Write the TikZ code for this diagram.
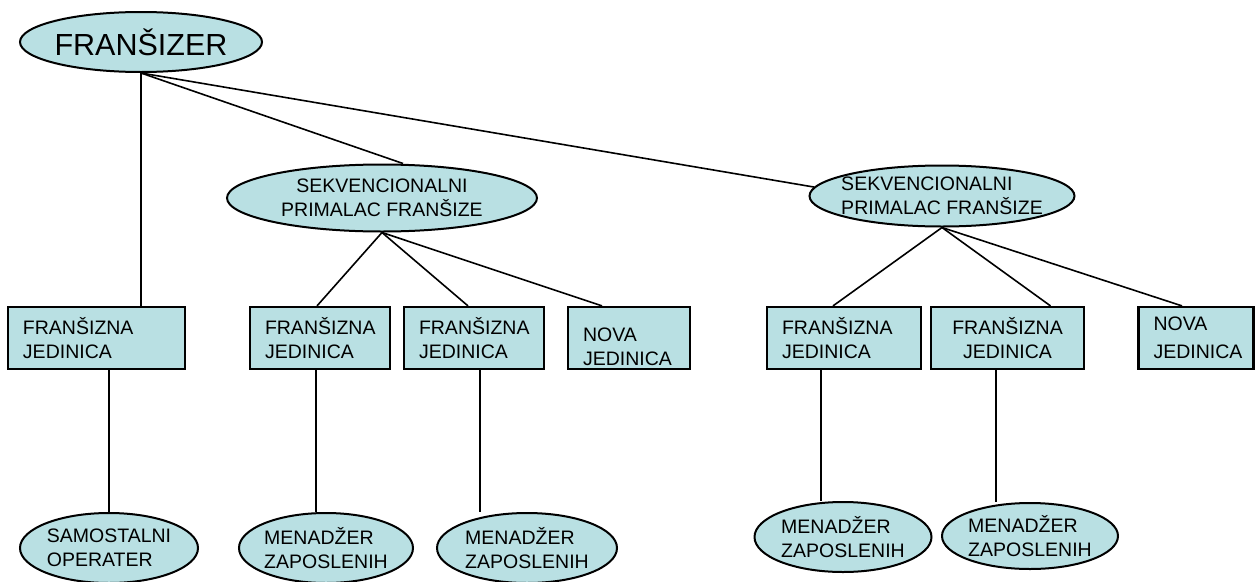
\documentclass[tikz,border=0pt]{standalone}
\usepackage{fontspec}
\setmainfont{Liberation Sans}
\usetikzlibrary{shapes.geometric}
\definecolor{franfill}{RGB}{185,224,227}

\begin{document}
\begin{tikzpicture}[x=1pt, y=-1pt,
        font=\fontsize{19.5}{23.5}\selectfont,
        ell/.style={ellipse, draw, fill=franfill, line width=2pt, inner xsep=-12pt, inner ysep=-4pt},
        jed/.style={rectangle, draw, fill=franfill, line width=2.2pt, text width=#1, inner xsep=15pt, minimum height=62pt, align=left},
        conn/.style={line width=1.6pt}]
        \useasboundingbox (0,0) rectangle (1255,581);

        % top and the two sequential franchisees
        \node[ell, minimum width=242pt, minimum height=60pt, font=\fontsize{30.5}{36}\selectfont] (fran) at (141,42) {FRANŠIZER};
        \node[ell, minimum width=310pt, minimum height=67pt, align=center] (sp1) at (382,198) {SEKVENCIONALNI\\PRIMALAC FRANŠIZE};
        \node[ell, minimum width=265pt, minimum height=61pt, align=left] (sp2) at (942,196) {SEKVENCIONALNI\\PRIMALAC FRANŠIZE};

        % units
        \node[jed=147pt] (b1) at (96.5,338) {FRANŠIZNA\\JEDINICA};
        \node[jed=110pt] (b2) at (320,338) {FRANŠIZNA\\JEDINICA};
        \node[jed=110pt] (b3) at (474,338) {FRANŠIZNA\\JEDINICA};
        \node[jed=92pt] (b4) at (629,338) {\raisebox{-9pt}[\height][\depth]{\parbox{92pt}{NOVA\\JEDINICA}}};
        \node[jed=124pt] (b5) at (844,338) {FRANŠIZNA\\JEDINICA};
        \node[jed=123pt, align=center] (b6) at (1007.5,338) {FRANŠIZNA\\JEDINICA};
        \node[jed=85pt] (b7) at (1196,338) {NOVA\\[5pt]JEDINICA};

        % bottom row
        \node[ell, minimum width=178pt, minimum height=70pt, align=left] (e1) at (109,548) {SAMOSTALNI\\OPERATER};
        \node[ell, minimum width=174pt, minimum height=70pt, align=left] (e2) at (326,548) {MENADŽER\\ZAPOSLENIH};
        \node[ell, minimum width=180pt, minimum height=70pt, align=left] (e3) at (527,548) {MENADŽER\\ZAPOSLENIH};
        \node[ell, minimum width=177pt, minimum height=70pt, align=left] (e4) at (843,537) {MENADŽER\\ZAPOSLENIH};
        \node[ell, minimum width=176pt, minimum height=66pt, align=left] (e5) at (1030,536) {MENADŽER\\ZAPOSLENIH};

        \draw[conn] (fran.south) -- (fran.south |- b1.north);
        \draw[conn] (fran.south) -- ([xshift=21pt]sp1.north);
        \draw[conn] (fran.south) -- (sp2.176);

        \draw[conn] (sp1.south) -- ([xshift=-3pt]b2.north);
        \draw[conn] (sp1.south) -- ([xshift=-6pt]b3.north);
        \draw[conn] (sp1.south) -- ([xshift=-27pt]b4.north);
        \draw[conn] (sp2.south) -- ([xshift=-11pt]b5.north);
        \draw[conn] (sp2.south) -- ([xshift=43pt]b6.north);
        \draw[conn] (sp2.south) -- ([xshift=-14pt]b7.north);

        \draw[conn] (e1.north |- b1.south) -- (e1.north);
        \draw[conn] ([xshift=-4pt]b2.south) -- ([xshift=-4pt]b2.south |- e2.north);
        \draw[conn] ([xshift=6pt]b3.south) -- ([xshift=6pt]b3.south |- e3.north);
        \draw[conn] ([xshift=-23pt]b5.south) -- ([xshift=-23pt]b5.south |- e4.north);
        \draw[conn] ([xshift=-11.5pt]b6.south) -- ([xshift=-11.5pt]b6.south |- e5.north);
    \end{tikzpicture}
\end{document}
